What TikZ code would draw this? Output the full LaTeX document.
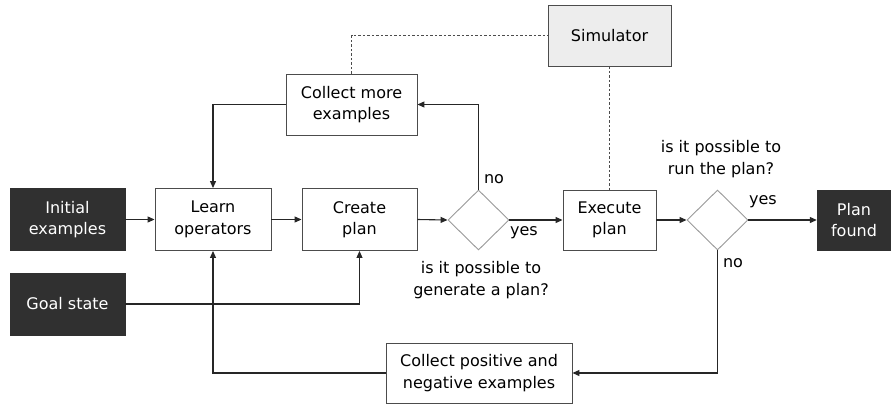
\documentclass[tikz,border=0pt]{standalone}
\usepackage{fontspec}
\setmainfont{DejaVu Sans}
\usetikzlibrary{shapes.geometric,arrows.meta}
\definecolor{darkbox}{HTML}{303030}
\definecolor{simfill}{HTML}{EDEDED}
\begin{document}
\begin{tikzpicture}[x=1pt,y=-1pt,
  font=\fontsize{16}{21.5}\selectfont,
  box/.style={draw=black!70,line width=0.9pt,fill=white,align=center,inner sep=0pt},
  darkb/.style={draw=darkbox,fill=darkbox,text=white,align=center,inner sep=0pt},
  dia/.style={diamond,draw=black!40,line width=0.9pt,inner sep=0pt,minimum width=61pt,minimum height=60pt},
  conn/.style={line width=1.1pt,draw=black!85,-{Triangle[length=7pt,width=6pt]}},
  dashline/.style={dashed,dash pattern=on 2.5pt off 2pt,line width=0.8pt,draw=black!70},
  lbl/.style={align=center,inner sep=0pt}]
\useasboundingbox (0,0) rectangle (891,405);
\node[darkb,minimum width=115pt,minimum height=62pt] (init) at (67.5,219.5) {Initial\\examples};
\node[darkb,minimum width=115pt,minimum height=62pt] (goal) at (67.5,304) {Goal state};
\node[box,minimum width=116pt,minimum height=62pt] (learn) at (213,219.5) {Learn\\operators};
\node[box,minimum width=115pt,minimum height=62pt] (create) at (359.5,219.5) {Create\\plan};
\node[dia] (d1) at (478.5,220) {};
\node[box,minimum width=131pt,minimum height=61pt] (more) at (351.5,104.5) {Collect more\\examples};
\node[box,fill=simfill,minimum width=123pt,minimum height=61pt] (sim) at (609.5,35.5) {Simulator};
\node[box,minimum width=93pt,minimum height=60pt] (exec) at (609.5,220) {Execute\\plan};
\node[dia] (d2) at (717.5,220) {};
\node[darkb,minimum width=76pt,minimum height=60pt] (found) at (855,220) {\hspace*{-2pt}Plan\\\hspace*{-2pt}found};
\node[box,minimum width=186pt,minimum height=60pt] (pos) at (479,373) {Collect positive and\\negative examples};

\node[lbl] (no1) at (494,179) {no};
\node[lbl] (yes1) at (524,233) {yes};
\node[lbl] (yes2) at (763,202) {yes};
\node[lbl] (no2) at (733,263) {no};
\node[lbl] (q1) at (481,280) {is it possible to\\generate a plan?};
\node[lbl] (q2) at (721,159) {is it possible to\\run the plan?};

\draw[conn] (init.east) -- (learn.west);
\draw[conn] (learn.east) -- (create.west);
\draw[conn] (create.east) -- (d1.west);
\draw[conn] (d1.east) -- (exec.west);
\draw[conn] (exec.east) -- (d2.west);
\draw[conn] (d2.east) -- (found.west);
\draw[conn] (d1.north) |- (more.east);
\draw[conn] (more.west) -| (learn.north);
\draw[conn] (d2.south) |- (pos.east);
\draw[conn] (pos.west) -| (learn.south);
\draw[conn] (goal.east) -| (create.south);
\draw[dashline] (more.north) |- (sim.west);
\draw[dashline] (sim.south) -- (exec.north);
\end{tikzpicture}
\end{document}
